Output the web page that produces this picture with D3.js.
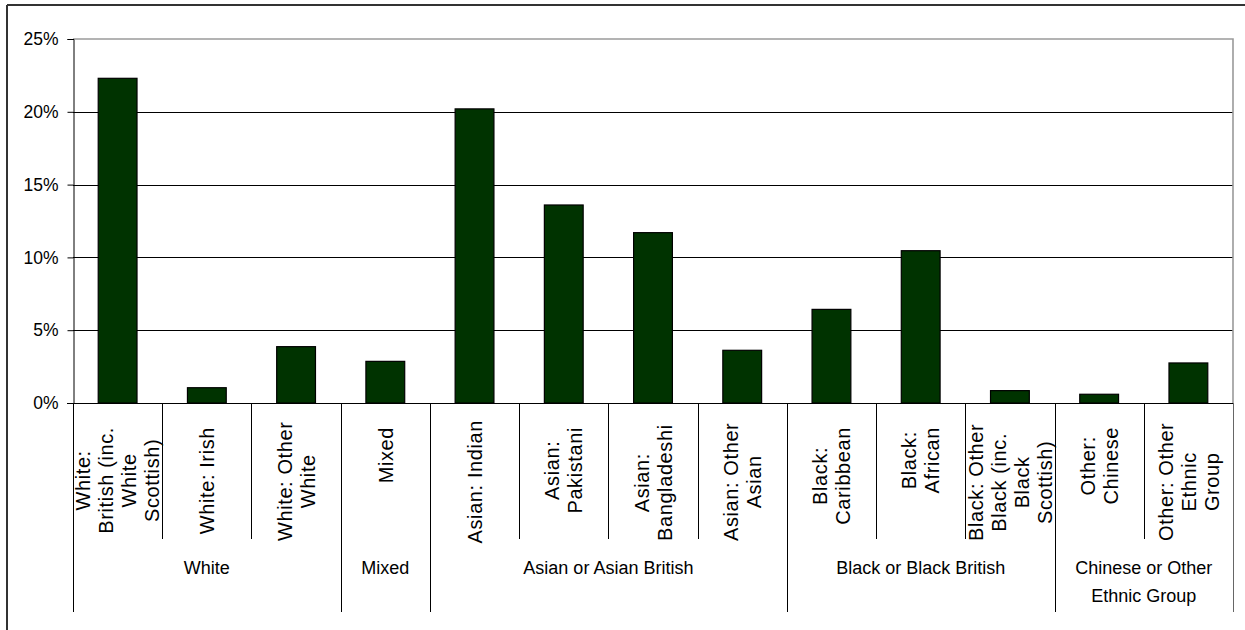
<!DOCTYPE html>
<html>
<head>
<meta charset="utf-8">
<script src="https://cdn.jsdelivr.net/npm/d3@7"></script>
<style>
  html, body { margin: 0; padding: 0; background: #fff; }
  svg { display: block; font-family: "Liberation Sans", Arial, sans-serif; }
</style>
</head>
<body>
<svg id="chart" width="1245" height="630"></svg>
<script>
// Ethnic group shares (%)
const categories = [
  "White: British (inc. White Scottish)", "White: Irish", "White: Other White",
  "Mixed",
  "Asian: Indian", "Asian: Pakistani", "Asian: Bangladeshi", "Asian: Other Asian",
  "Black: Caribbean", "Black: African", "Black: Other Black (inc. Black Scottish)",
  "Other: Chinese", "Other: Other Ethnic Group"
];
// Wrapped label lines, one list per category
const categoryLines = [
  ["White:", "British (inc.", "White", "Scottish)"],
  ["White: Irish"],
  ["White: Other", "White"],
  ["Mixed"],
  ["Asian: Indian"],
  ["Asian:", "Pakistani"],
  ["Asian:", "Bangladeshi"],
  ["Asian: Other", "Asian"],
  ["Black:", "Caribbean"],
  ["Black:", "African"],
  ["Black: Other", "Black (inc.", "Black", "Scottish)"],
  ["Other:", "Chinese"],
  ["Other: Other", "Ethnic", "Group"]
];
const values = [22.3, 1.05, 3.87, 2.86, 20.2, 13.6, 11.7, 3.62, 6.43, 10.46, 0.85, 0.6, 2.75];

// Outer groups: label lines and how many categories each spans
const groupLines = [["White"], ["Mixed"], ["Asian or Asian British"], ["Black or Black British"], ["Chinese or Other", "Ethnic Group"]];
const groupSizes = [3, 1, 4, 3, 2];

const yTicks = [0, 5, 10, 15, 20, 25];

const svg = d3.select("#chart");
const plotLeft = 73, plotRight = 1233, plotTop = 39, plotBottom = 403;
const catLineBottom = 539, groupLineBottom = 612;

const x = d3.scaleBand().domain(d3.range(categories.length)).range([plotLeft, plotRight]).padding(0);
const y = d3.scaleLinear().domain([0, 25]).range([plotBottom, plotTop]);
const bw = x.bandwidth();
const barW = bw / 2.3;

// chart frame (top and left edges visible)
svg.append("line").attr("x1", 7).attr("x2", 1245).attr("y1", 5).attr("y2", 5)
  .attr("stroke", "#333").attr("stroke-width", 2);
svg.append("line").attr("x1", 7).attr("x2", 7).attr("y1", 5).attr("y2", 630)
  .attr("stroke", "#333").attr("stroke-width", 2);

// gridlines
svg.append("g").selectAll("line").data(yTicks.filter(t => t > 0 && t < 25)).join("line")
  .attr("x1", plotLeft).attr("x2", plotRight)
  .attr("y1", d => Math.round(y(d)) + 0.5).attr("y2", d => Math.round(y(d)) + 0.5)
  .attr("stroke", "#000").attr("stroke-width", 1);

// plot area border on top and right
svg.append("path")
  .attr("d", `M${plotLeft},${y(25)}H${plotRight}V${plotBottom}`)
  .attr("fill", "none").attr("stroke", "#9a9a9a").attr("stroke-width", 1.6);

// y axis
const yAxis = d3.axisLeft(y).tickValues(yTicks).tickFormat(d => d + "%").tickSize(6).tickPadding(9);
const yg = svg.append("g").attr("transform", `translate(${plotLeft + 0.5},0)`).call(yAxis);
yg.select(".domain").attr("stroke", "#000");
yg.selectAll(".tick line").attr("stroke", "#000");
yg.selectAll(".tick text").attr("font-size", 17.5).attr("fill", "#000")
  .attr("font-family", "Liberation Sans, Arial, sans-serif");

// bars
svg.append("g").selectAll("rect").data(values).join("rect")
  .attr("x", (d, i) => x(i) + (bw - barW) / 2)
  .attr("y", d => y(d))
  .attr("width", barW)
  .attr("height", d => y(0) - y(d))
  .attr("fill", "#003300")
  .attr("stroke", "#000").attr("stroke-width", 1.2);

// x axis line
svg.append("line").attr("x1", plotLeft - 6).attr("x2", plotRight).attr("y1", plotBottom + 0.5).attr("y2", plotBottom + 0.5)
  .attr("stroke", "#000").attr("stroke-width", 1.2);

// category separators (short) and group separators (long)
const groupStarts = [0];
groupSizes.forEach((s, i) => groupStarts.push(groupStarts[i] + s));
const bounds = d3.range(categories.length + 1);
svg.append("g").selectAll("line").data(bounds).join("line")
  .attr("x1", i => Math.round(plotLeft + i * bw) + 0.5)
  .attr("x2", i => Math.round(plotLeft + i * bw) + 0.5)
  .attr("y1", plotBottom)
  .attr("y2", i => groupStarts.includes(i) ? groupLineBottom : catLineBottom)
  .attr("stroke", i => (i === categories.length ? "#666" : "#000")).attr("stroke-width", 1);

// rotated category labels
const catFont = 20, catPitch = 23;
const catG = svg.append("g");
categoryLines.forEach((lines, i) => {
  const cx = x(i) + bw / 2;
  const g = catG.append("g");
  const texts = lines.map((ln, k) => g.append("text")
    .attr("text-anchor", "middle")
    .attr("font-size", catFont)
    .attr("letter-spacing", 0.6)
    .attr("fill", "#000")
    .attr("x", 0)
    .attr("y", (k - (lines.length - 1) / 2) * catPitch + catFont * 0.36)
    .text(ln));
  const L = d3.max(texts, t => t.node().getComputedTextLength());
  const topY = Math.max(420, Math.min(427, 541 - L));
  const cy = topY + L / 2;
  g.attr("transform", `translate(${cx},${cy}) rotate(-90)`);
});

// group labels
const grpFont = 18, grpPitch = 27.5;
groupLines.forEach((lines, gi) => {
  const start = groupStarts[gi], n = groupSizes[gi];
  const cx = plotLeft + (start + n / 2) * bw;
  lines.forEach((ln, k) => {
    svg.append("text")
      .attr("x", cx)
      .attr("y", 568 + k * grpPitch + grpFont * 0.36)
      .attr("text-anchor", "middle")
      .attr("font-size", grpFont)
      .attr("fill", "#000")
      .text(ln);
  });
});
</script>
</body>
</html>
